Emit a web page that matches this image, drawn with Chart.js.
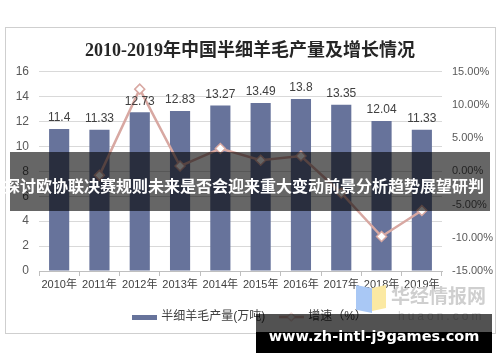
<!DOCTYPE html>
<html>
<head>
<meta charset="utf-8">
<script src="https://cdn.jsdelivr.net/npm/chart.js@4.4.1/dist/chart.umd.min.js"></script>
<style>
  body { margin: 0; background: #fff; width: 500px; height: 362px; overflow: hidden; position: relative; }
  #chart { position: absolute; left: 0; top: 0; }
  .frame { position: absolute; left: 5px; top: 27px; width: 489px; height: 305px; border: 1px solid #cfcfcf; pointer-events: none; }
  .band { position: absolute; left: 10px; top: 152px; width: 480px; height: 59px; background: rgba(0,0,0,0.6); }
  .band-text { position: absolute; left: 0; top: 175px; width: 488px; text-align: center; color: #fff;
    font: bold 16px "Noto Sans CJK SC", sans-serif; line-height: 20px; white-space: nowrap; }
  .mark-logo1 { position: absolute; left: 356px; top: 285px; width: 16px; height: 28px; background: #a9c8f5; clip-path: polygon(0 0, 100% 12%, 100% 100%, 0 88%); }
  .mark-logo2 { position: absolute; left: 372px; top: 285px; width: 14px; height: 26px; background: #fbe9a3; clip-path: polygon(0 12%, 100% 0, 100% 88%, 0 100%); }
  .mark-text { position: absolute; left: 391px; top: 284px; color: #cfcfcf; font: bold 19px "Noto Sans CJK SC", sans-serif; line-height: 22px; }
  .mark-sub { position: absolute; left: 398px; top: 309px; color: #d8d8d8; font: 12px "Liberation Sans", sans-serif; letter-spacing: 3px; }
  .site-top { position: absolute; left: 256px; top: 314px; width: 236px; height: 18px; background: rgba(0,0,0,0.68); }
  .site-bot { position: absolute; left: 256px; top: 332px; width: 236px; height: 21px; background: #000; }
  .site-text { position: absolute; left: 256px; top: 327px; width: 236px; text-align: center; color: #fff;
    font: bold 14.5px "DejaVu Sans", sans-serif; line-height: 18px; white-space: nowrap; }
</style>
</head>
<body>
<canvas id="chart" width="500" height="362"></canvas>
<div class="frame"></div>
<div class="mark-logo1"></div>
<div class="mark-logo2"></div>
<div class="mark-text">华经情报网</div>
<div class="mark-sub">huaon.com</div>
<div class="band"></div>
<div class="band-text">探讨欧协联决赛规则未来是否会迎来重大变动前景分析趋势展望研判</div>
<div class="site-top"></div>
<div class="site-bot"></div>
<div class="site-text">www.zh-intl-j9games.com</div>

<script>
// 数据
const years = ['2010年', '2011年', '2012年', '2013年', '2014年', '2015年', '2016年', '2017年', '2018年', '2019年'];
const output = [11.4, 11.33, 12.73, 12.83, 13.27, 13.49, 13.8, 13.35, 12.04, 11.33];
const growth = [null, -0.61, 12.36, 0.79, 3.43, 1.66, 2.30, -3.26, -9.81, -5.90];

const barColor = '#67739b';
const lineColor = '#d8a8a2';
const labelFont = '"Liberation Sans", "Noto Sans CJK SC", Arial, sans-serif';

// 图例小图标
function makeIcon(w, h, draw) {
    const c = document.createElement('canvas');
    c.width = w; c.height = h;
    draw(c.getContext('2d'));
    return c;
}
const barIcon = makeIcon(25, 5, ctx => { ctx.fillStyle = barColor; ctx.fillRect(0, 0, 25, 5); });
const lineIcon = makeIcon(25, 11, ctx => {
    ctx.strokeStyle = lineColor; ctx.lineWidth = 2;
    ctx.beginPath(); ctx.moveTo(0, 5.5); ctx.lineTo(25, 5.5); ctx.stroke();
    ctx.fillStyle = '#fff'; ctx.lineWidth = 1;
    ctx.beginPath(); ctx.moveTo(12.5, 1.5); ctx.lineTo(16.5, 5.5); ctx.lineTo(12.5, 9.5); ctx.lineTo(8.5, 5.5); ctx.closePath();
    ctx.fill(); ctx.stroke();
});

// 柱子上方的数值
const barLabels = {
    id: 'barLabels',
    afterDatasetsDraw(chart) {
        const ctx = chart.ctx;
        const meta = chart.getDatasetMeta(0);
        ctx.save();
        ctx.font = '12px ' + labelFont;
        ctx.fillStyle = '#404040';
        ctx.textAlign = 'center';
        ctx.textBaseline = 'middle';
        meta.data.forEach((bar, i) => ctx.fillText(String(output[i]), bar.x, bar.y - 11));
        ctx.restore();
    }
};

new Chart(document.getElementById('chart'), {
    data: {
        labels: years,
        datasets: [{
            type: 'bar',
            label: '半细羊毛产量(万吨)',
            data: output,
            backgroundColor: barColor,
            barPercentage: 0.5,
            categoryPercentage: 1,
            yAxisID: 'y',
            order: 2
        }, {
            type: 'line',
            label: '增速（%）',
            data: growth,
            borderColor: lineColor,
            borderWidth: 2.5,
            pointStyle: 'rectRot',
            pointRadius: 5,
            pointBackgroundColor: '#fff',
            pointBorderColor: lineColor,
            pointBorderWidth: 1.5,
            tension: 0,
            yAxisID: 'y1',
            order: 1
        }]
    },
    options: {
        responsive: false,
        animation: false,
        layout: { padding: { top: 28, bottom: 29, left: 0, right: 0 } },
        plugins: {
            title: {
                display: true,
                text: '2010-2019年中国半细羊毛产量及增长情况',
                color: '#262626',
                font: { size: 18, weight: 'bold', family: '"Liberation Serif", "Noto Sans CJK SC", serif' },
                padding: { top: 13, bottom: 9 }
            },
            legend: {
                position: 'bottom',
                labels: {
                    usePointStyle: true,
                    pointStyleWidth: 22,
                    padding: 15,
                    color: '#404040',
                    font: { size: 12, family: labelFont },
                    sort: (a, b) => a.datasetIndex - b.datasetIndex,
                    generateLabels(chart) {
                        const items = Chart.defaults.plugins.legend.labels.generateLabels(chart);
                        items.forEach(it => { it.pointStyle = it.datasetIndex === 0 ? barIcon : lineIcon; });
                        return items;
                    }
                }
            },
            tooltip: { enabled: false }
        },
        scales: {
            x: {
                grid: { offset: true, drawOnChartArea: false, tickLength: 5, color: '#bfbfbf' },
                border: { color: '#bfbfbf' },
                ticks: { color: '#404040', font: { size: 11, family: labelFont }, padding: 2, maxRotation: 0, autoSkip: false },
                afterFit(s) { s.height = 25; }
            },
            y: {
                position: 'left',
                min: 0,
                max: 16,
                ticks: { stepSize: 2, color: '#595959', font: { size: 12, family: labelFont }, padding: 10 },
                grid: { color: '#d9d9d9', drawTicks: false },
                border: { display: false },
                afterFit(s) { s.width = 39; }
            },
            y1: {
                position: 'right',
                min: -15,
                max: 15,
                ticks: { stepSize: 5, color: '#595959', font: { size: 11, family: labelFont }, padding: 10,
                    callback: v => v.toFixed(2) + '%' },
                grid: { drawOnChartArea: false, drawTicks: false },
                border: { display: false },
                afterFit(s) { s.width = 58; }
            }
        }
    },
    plugins: [barLabels]
});
</script>
</body>
</html>
